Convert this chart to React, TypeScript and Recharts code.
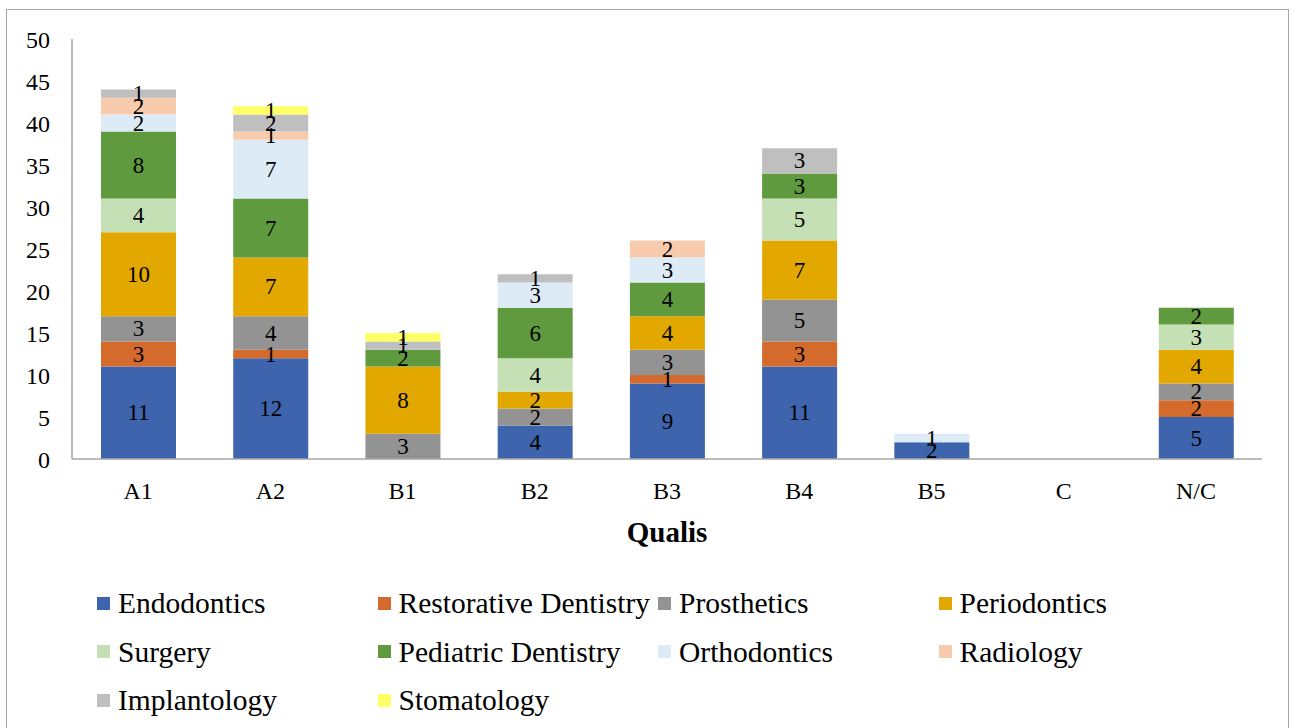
import React from 'react';
import { BarChart, Bar, XAxis, YAxis, LabelList } from 'recharts';

const categories = ['A1', 'A2', 'B1', 'B2', 'B3', 'B4', 'B5', 'C', 'N/C'];

const endodontics = [11, 12, 0, 4, 9, 11, 2, 0, 5];
const restorative = [3, 1, 0, 0, 1, 3, 0, 0, 2];
const prosthetics = [3, 4, 3, 2, 3, 5, 0, 0, 2];
const periodontics = [10, 7, 8, 2, 4, 7, 0, 0, 4];
const surgery = [4, 0, 0, 4, 0, 5, 0, 0, 3];
const pediatric = [8, 7, 2, 6, 4, 3, 0, 0, 2];
const orthodontics = [2, 7, 0, 3, 3, 0, 1, 0, 0];
const radiology = [2, 1, 0, 0, 2, 0, 0, 0, 0];
const implantology = [1, 2, 1, 1, 0, 3, 0, 0, 0];
const stomatology = [0, 1, 1, 0, 0, 0, 0, 0, 0];

const yTicks = [0, 5, 10, 15, 20, 25, 30, 35, 40, 45, 50];

const series = [
  { key: 'Endodontics', values: endodontics, color: '#3D64AD' },
  { key: 'Restorative Dentistry', values: restorative, color: '#D46A2B' },
  { key: 'Prosthetics', values: prosthetics, color: '#939393' },
  { key: 'Periodontics', values: periodontics, color: '#E2A800' },
  { key: 'Surgery', values: surgery, color: '#C5E0B4' },
  { key: 'Pediatric Dentistry', values: pediatric, color: '#5F9A3F' },
  { key: 'Orthodontics', values: orthodontics, color: '#DDEBF7' },
  { key: 'Radiology', values: radiology, color: '#F8CBAD' },
  { key: 'Implantology', values: implantology, color: '#BFBFBF' },
  { key: 'Stomatology', values: stomatology, color: '#FFFF66' },
];

const data = categories.map((name, i) => {
  const row: Record<string, string | number> = { name };
  series.forEach((s) => {
    row[s.key] = s.values[i];
  });
  return row;
});

const FONT = '"Liberation Serif", "Times New Roman", serif';

// hide labels on empty segments
const renderLabel = (props: any) => {
  const { x, y, width, height, value } = props;
  if (!value) return null;
  return (
    <text
      x={x + width / 2}
      y={y + height / 2}
      textAnchor="middle"
      dominantBaseline="central"
      fill="#000"
      fontSize={23}
      fontFamily={FONT}
    >
      {value}
    </text>
  );
};

const App: React.FC = () => {
  return (
    <div style={{ position: 'absolute', left: 0, top: 0, width: 1291, height: 728, background: '#fff', fontFamily: FONT }}>
      <div
        style={{
          position: 'absolute',
          left: 6,
          top: 9,
          width: 1283,
          height: 730,
          border: '1px solid #a6a6a6',
          boxSizing: 'border-box',
        }}
      />
      <div style={{ position: 'absolute', left: 0, top: 0 }}>
        <BarChart
          width={1291}
          height={560}
          data={data}
          margin={{ top: 39, right: 29, left: 0, bottom: 41 }}
          barSize={75}
        >
          <XAxis
            dataKey="name"
            axisLine={{ stroke: '#a6a6a6', strokeWidth: 1.5 }}
            tickLine={false}
            tickSize={0}
            tickMargin={23}
            height={60}
            tick={{ fill: '#000', fontSize: 24, fontFamily: FONT }}
            interval={0}
          />
          <YAxis
            domain={[0, 50]}
            ticks={yTicks}
            width={72}
            axisLine={{ stroke: '#a6a6a6', strokeWidth: 1.5 }}
            tickLine={false}
            tickSize={0}
            tickMargin={22}
            tick={{ fill: '#000', fontSize: 24, fontFamily: FONT }}
          />
          {series.map((s) => (
            <Bar key={s.key} dataKey={s.key} stackId="a" fill={s.color} isAnimationActive={false}>
              <LabelList dataKey={s.key} content={renderLabel} />
            </Bar>
          ))}
        </BarChart>
      </div>
      <div
        style={{
          position: 'absolute',
          left: 567,
          top: 515,
          width: 200,
          textAlign: 'center',
          fontWeight: 'bold',
          fontSize: 29,
          lineHeight: '34px',
          color: '#000',
        }}
      >
        Qualis
      </div>
      {series.map((s, i) => {
        const col = i % 4;
        const row = Math.floor(i / 4);
        return (
          <div
            key={s.key}
            style={{
              position: 'absolute',
              left: 97 + col * 280.5,
              top: 603 + row * 48.5 - 18,
              height: 36,
              display: 'flex',
              alignItems: 'center',
              whiteSpace: 'nowrap',
            }}
          >
            <div style={{ width: 13, height: 13, background: s.color, marginRight: 8 }} />
            <span style={{ fontSize: 29.5, color: '#000', lineHeight: '36px' }}>{s.key}</span>
          </div>
        );
      })}
    </div>
  );
};

export default App;
